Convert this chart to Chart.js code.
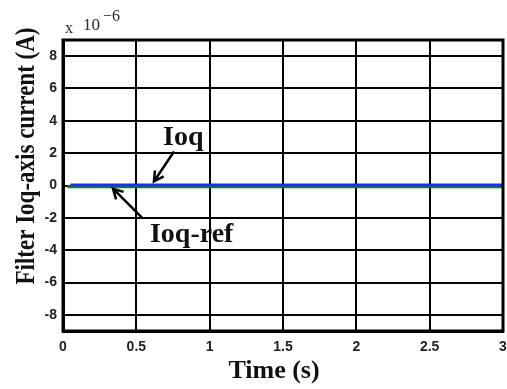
<!DOCTYPE html>
<html>
<head>
<meta charset="utf-8">
<script src="https://cdn.jsdelivr.net/npm/chart.js@4/dist/chart.umd.min.js"></script>
<style>
  html, body { margin: 0; padding: 0; background: #fff; }
  canvas { display: block; }
</style>
</head>
<body>
<canvas id="chart" width="507" height="389"></canvas>
<script>
// time axis (s) and currents in units of 1e-6 A
const TIME_IOQ = [0.05, 0.5, 1, 1.5, 2, 2.5, 3];
const IOQ = [0.03, 0.03, 0.03, 0.03, 0.03, 0.03, 0.03];
const TIME_REF = [0.03, 0.5, 1, 1.5, 2, 2.5, 3];
const IOQ_REF = [-0.07, -0.07, -0.07, -0.07, -0.07, -0.07, -0.07];

const X_TICKS = [0, 0.5, 1, 1.5, 2, 2.5, 3];
const Y_TICKS = [-8, -6, -4, -2, 0, 2, 4, 6, 8];

const X_TITLE = 'Time (s)';
const Y_TITLE = 'Filter Ioq-axis current (A)';

// callouts in data coordinates: label, text anchor, arrow tail, arrow tip
const CALLOUTS = [
  { text: 'Ioq', at: [0.682, 2.48], from: [0.757, 2.1], to: [0.62, 0.25] },
  { text: 'Ioq-ref', at: [0.593, -3.48], from: [0.545, -2.05], to: [0.341, -0.2] }
];

const SERIF = '"Liberation Serif", "Times New Roman", serif';

function arrow(ctx, x1, y1, x2, y2) {
  const ang = Math.atan2(y2 - y1, x2 - x1);
  const head = 11;
  ctx.beginPath();
  ctx.moveTo(x1, y1);
  ctx.lineTo(x2, y2);
  ctx.moveTo(x2 - head * Math.cos(ang - 0.5), y2 - head * Math.sin(ang - 0.5));
  ctx.lineTo(x2, y2);
  ctx.lineTo(x2 - head * Math.cos(ang + 0.5), y2 - head * Math.sin(ang + 0.5));
  ctx.stroke();
}

const decorations = {
  id: 'decorations',
  afterDraw(chart) {
    const { ctx, chartArea: a, scales: { x, y } } = chart;
    ctx.save();

    // full box
    ctx.strokeStyle = '#000';
    ctx.lineWidth = 3;
    ctx.strokeRect(a.left, a.top, a.right - a.left, a.bottom - a.top);

    // callouts
    ctx.lineWidth = 2.5;
    ctx.fillStyle = '#111';
    ctx.font = 'bold 28px ' + SERIF;
    ctx.textBaseline = 'alphabetic';
    ctx.textAlign = 'left';
    for (const c of CALLOUTS) {
      arrow(ctx,
        x.getPixelForValue(c.from[0]), y.getPixelForValue(c.from[1]),
        x.getPixelForValue(c.to[0]), y.getPixelForValue(c.to[1]));
      ctx.fillText(c.text, x.getPixelForValue(c.at[0]), y.getPixelForValue(c.at[1]));
    }

    // multiplier
    ctx.fillStyle = '#2a2a2a';
    ctx.font = '16px ' + SERIF;
    ctx.fillText('x', a.left + 2, a.top - 7);
    ctx.font = '17px ' + SERIF;
    ctx.fillText('10', a.left + 20, a.top - 10);
    ctx.font = '16px ' + SERIF;
    ctx.fillText('\u22126', a.left + 40, a.top - 19);

    // axis titles
    ctx.fillStyle = '#111';
    ctx.font = 'bold 26px ' + SERIF;
    ctx.textAlign = 'center';
    ctx.fillText(X_TITLE, 274, 378);

    ctx.translate(34, 156);
    ctx.rotate(-Math.PI / 2);
    ctx.scale(1, 1.2);
    ctx.font = 'bold 23px ' + SERIF;
    ctx.fillText(Y_TITLE, 0, 0);
    ctx.restore();
  }
};

const tickFont = { family: '"Liberation Sans", Arial, sans-serif', size: 14, weight: 'bold' };

new Chart(document.getElementById('chart'), {
  type: 'line',
  data: {
    datasets: [
      {
        label: 'Ioq',
        data: TIME_IOQ.map((t, i) => ({ x: t, y: IOQ[i] })),
        borderColor: '#1f2fe6',
        borderWidth: 3,
        pointRadius: 0,
        order: 1
      },
      {
        label: 'Ioq-ref',
        data: TIME_REF.map((t, i) => ({ x: t, y: IOQ_REF[i] })),
        borderColor: '#17801f',
        borderWidth: 3,
        pointRadius: 0,
        order: 2
      }
    ]
  },
  options: {
    responsive: false,
    devicePixelRatio: 1,
    animation: false,
    layout: { padding: { left: 0, right: 4, top: 40, bottom: 0 } },
    plugins: { legend: { display: false }, tooltip: { enabled: false } },
    scales: {
      x: {
        type: 'linear',
        min: 0,
        max: 3,
        afterBuildTicks: (s) => { s.ticks = X_TICKS.map((v) => ({ value: v })); },
        afterFit: (s) => { s.height = 58; s.paddingLeft = 0; s.paddingRight = 0; },
        grid: { color: '#000', lineWidth: 2, drawTicks: false },
        border: { color: '#000', width: 3 },
        ticks: { font: tickFont, color: '#222', padding: 8, maxRotation: 0, callback: (v) => String(v) }
      },
      y: {
        type: 'linear',
        min: -9,
        max: 9,
        afterBuildTicks: (s) => { s.ticks = Y_TICKS.map((v) => ({ value: v })); },
        afterFit: (s) => { s.width = 63; s.paddingTop = 0; s.paddingBottom = 0; },
        grid: { color: '#000', lineWidth: 2, drawTicks: false },
        border: { color: '#000', width: 3 },
        ticks: { font: tickFont, color: '#222', padding: 6, callback: (v) => String(v) }
      }
    }
  },
  plugins: [decorations]
});
</script>
</body>
</html>
